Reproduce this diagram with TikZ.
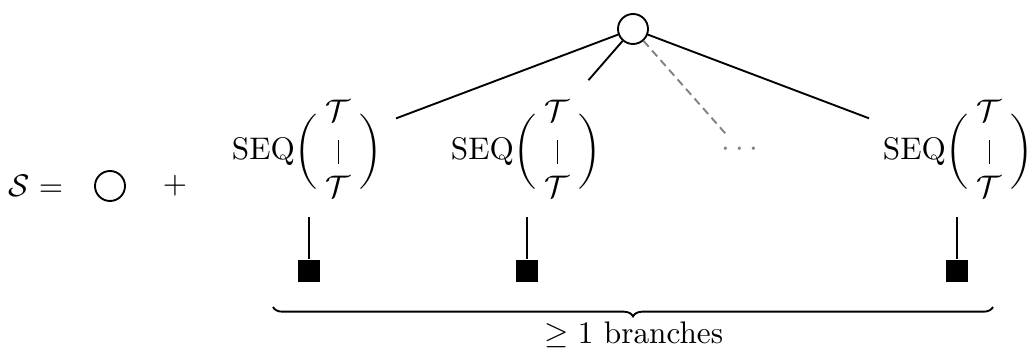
\documentclass[tikz,border=0pt]{standalone}
\usetikzlibrary{decorations.pathreplacing}
\newcommand\seqblock{$\mathrm{SEQ}\biggl(\hspace{2.6pt}\begin{array}{@{}c@{}}\mathcal{T}\\[0.3pt]\rule[-1.45pt]{0.35pt}{7.7pt}\\[0.3pt]\mathcal{T}\end{array}\hspace{2.6pt}\biggr)$}
\begin{document}
\begin{tikzpicture}[x=0.32pt,y=-0.32pt, line width=0.6pt,
  seqnode/.style={circle, inner sep=0pt, minimum size=57pt},
  leafbox/.style={fill=black, inner sep=0pt, minimum size=7pt},
  vertex/.style={circle, draw, fill=white, inner sep=0pt, minimum size=9.6pt},
  ghost/.style={gray, dash pattern=on 2.5pt off 1.6pt}]
\useasboundingbox (0,0) rectangle (1028,350);
\node (lhs) at (36,186) {$\mathcal{S} =$};
\node[vertex] (leaf0) at (110,186) {};
\node (plus) at (175,186) {$+$};
\node[seqnode] (seq1) at (307,152) {\seqblock};
\node[seqnode] (seq2) at (526,152) {\seqblock};
\node[circle, inner sep=0.5pt, text=gray] (dots) at (740,150) {$\cdots$};
\node[seqnode] (seq3) at (958,152) {\seqblock};
\node[vertex] (root) at (633,29) {};
\draw (root) -- (seq1);
\draw (root) -- (seq2);
\draw[ghost] (root) -- (dots);
\draw (root) -- (seq3);
\node[leafbox] (sq1) at (309,271) {};
\node[leafbox] (sq2) at (527,271) {};
\node[leafbox] (sq3) at (957,271) {};
\coordinate (s1) at (309,217);
\coordinate (s2) at (527,217);
\coordinate (s3) at (957,217);
\draw (s1) -- (sq1);
\draw (s2) -- (sq2);
\draw (s3) -- (sq3);
\coordinate (bl) at (273,307);
\coordinate (br) at (993,307);
\draw[decorate, decoration={brace, mirror, amplitude=3pt}] (bl) -- (br);
\node (lbl) at (634,335) {$\geq 1$ branches};
\end{tikzpicture}
\end{document}
